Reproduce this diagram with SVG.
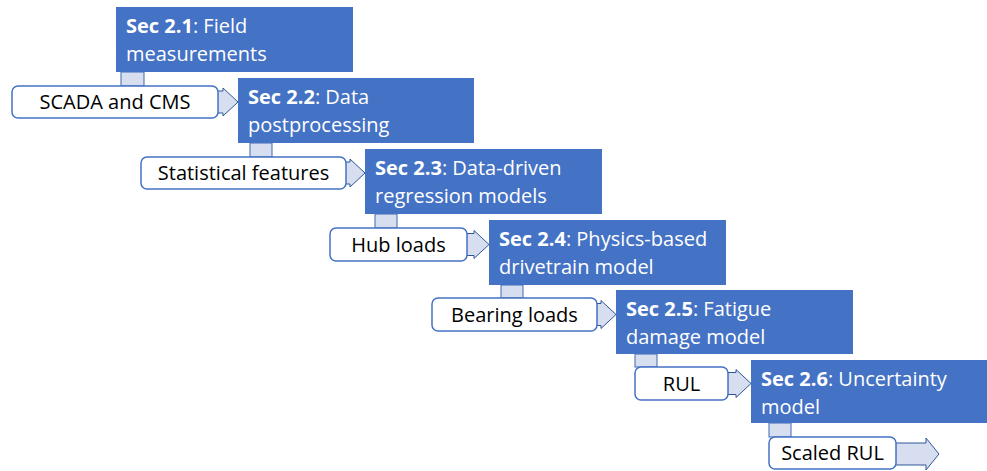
<svg xmlns="http://www.w3.org/2000/svg" width="987" height="471" viewBox="0 0 987 471">
<style>
.blk{fill:#4472C4}
.stub{fill:#D6DEF0;stroke:#4169B0;stroke-width:1}
.inp{fill:#fff;stroke:#4472C4;stroke-width:1.5}
.arr{fill:#D6DEF0;stroke:#2F5597;stroke-width:1}
.t{font-family:"Open Sans","Liberation Sans",sans-serif;font-size:20px}
.w{fill:#fff}
.k{fill:#000}
.b{font-weight:bold}
</style>
<rect width="987" height="471" fill="#fff"/>
<g id="connectors">
<rect class="stub" x="121" y="72" width="23" height="14"/>
<rect class="stub" x="250" y="143" width="22" height="14"/>
<rect class="stub" x="375" y="214" width="22" height="14"/>
<rect class="stub" x="501" y="285" width="22" height="13"/>
<rect class="stub" x="635" y="354" width="22" height="13"/>
<rect class="stub" x="769" y="423" width="22" height="14"/>
<path class="arr" d="M216,91 H223 V88 L238,102 L223,116 V113 H216 Z"/>
<path class="arr" d="M344,162 H350 V159 L365,173 L350,187 V184 H344 Z"/>
<path class="arr" d="M465,233.5 H474 V230.5 L489,244.5 L474,258.5 V255.5 H465 Z"/>
<path class="arr" d="M595,303.5 H601 V300.5 L616,314.5 L601,328.5 V325.5 H595 Z"/>
<path class="arr" d="M726,372.5 H736 V369.5 L751,383.5 L736,397.5 V394.5 H726 Z"/>
<path class="arr" d="M894,443 H926 V438 L939,454 L926,470 V465 H894 Z"/>
</g>
<g id="n1">
<rect class="blk" x="116" y="7" width="237" height="65"/>
<text class="t w" x="126" y="33"><tspan class="b">Sec 2.1</tspan>: Field</text>
<text class="t w" x="126" y="61">measurements</text>
</g>
<g id="i1">
<rect class="inp" x="12" y="86" width="206" height="32" rx="6"/>
<text class="t k" x="115" y="109" text-anchor="middle">SCADA and CMS</text>
</g>
<g id="n2">
<rect class="blk" x="238" y="78" width="236" height="65"/>
<text class="t w" x="248" y="104"><tspan class="b">Sec 2.2</tspan>: Data</text>
<text class="t w" x="248" y="132">postprocessing</text>
</g>
<g id="i2">
<rect class="inp" x="141" y="157" width="205" height="32" rx="6"/>
<text class="t k" x="243.5" y="180" text-anchor="middle">Statistical features</text>
</g>
<g id="n3">
<rect class="blk" x="365" y="149" width="237" height="65"/>
<text class="t w" x="375" y="175"><tspan class="b">Sec 2.3</tspan>: Data-driven</text>
<text class="t w" x="375" y="203">regression models</text>
</g>
<g id="i3">
<rect class="inp" x="330" y="228" width="137" height="33" rx="6"/>
<text class="t k" x="398.5" y="251.5" text-anchor="middle">Hub loads</text>
</g>
<g id="n4">
<rect class="blk" x="489" y="220" width="237" height="65"/>
<text class="t w" x="499" y="246"><tspan class="b">Sec 2.4</tspan>: Physics-based</text>
<text class="t w" x="499" y="274">drivetrain model</text>
</g>
<g id="i4">
<rect class="inp" x="432" y="298" width="165" height="33" rx="6"/>
<text class="t k" x="514.5" y="321.5" text-anchor="middle">Bearing loads</text>
</g>
<g id="n5">
<rect class="blk" x="616" y="290" width="237" height="64"/>
<text class="t w" x="626" y="316"><tspan class="b">Sec 2.5</tspan>: Fatigue</text>
<text class="t w" x="626" y="344">damage model</text>
</g>
<g id="i5">
<rect class="inp" x="635" y="367" width="93" height="33" rx="6"/>
<text class="t k" x="681.5" y="390.5" text-anchor="middle">RUL</text>
</g>
<g id="n6">
<rect class="blk" x="751" y="360" width="236" height="63"/>
<text class="t w" x="761" y="386"><tspan class="b">Sec 2.6</tspan>: Uncertainty</text>
<text class="t w" x="761" y="414">model</text>
</g>
<g id="i6">
<rect class="inp" x="769" y="437" width="127" height="32" rx="6"/>
<text class="t k" x="832.5" y="460" text-anchor="middle">Scaled RUL</text>
</g>
</svg>
